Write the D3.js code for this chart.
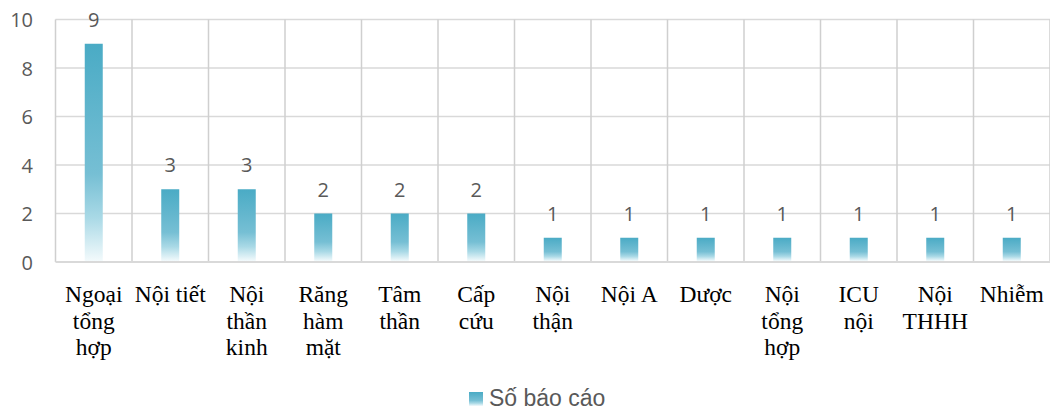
<!DOCTYPE html>
<html><head><meta charset="utf-8">
<script src="https://cdn.jsdelivr.net/npm/d3@7"></script>
<style>body{margin:0;background:#fff}</style>
</head><body>
<svg id="c" width="1050" height="411"></svg>
<script>
const categories = ["Ngoại tổng hợp","Nội tiết","Nội thần kinh","Răng hàm mặt","Tâm thần","Cấp cứu","Nội thận","Nội A","Dược","Nội tổng hợp","ICU nội","Nội THHH","Nhiễm"];
const values = [9,3,3,2,2,2,1,1,1,1,1,1,1];
const yTicks = [0,2,4,6,8,10];
const seriesName = "Số báo cáo";

const svg = d3.select("#c");
const m = {l:55.5, r:1050, t:19.5, b:262};
const x = d3.scaleBand().domain(categories).range([m.l, m.r]).padding(0);
const y = d3.scaleLinear().domain([0,10]).range([m.b, m.t]);

const defs = svg.append("defs");
const g = defs.append("linearGradient").attr("id","grad").attr("x1",0).attr("y1",0).attr("x2",0).attr("y2",1);
[[0,"#4aabc5"],[0.6,"#76bfd4"],[0.8,"#a9d9e6"],[1,"#f3fafc"]].forEach(s=>g.append("stop").attr("offset",s[0]).attr("stop-color",s[1]));

// horizontal gridlines
svg.append("g").selectAll("line").data(yTicks.filter(d=>d>0)).join("line")
  .attr("x1",m.l).attr("x2",m.r).attr("y1",d=>y(d)).attr("y2",d=>y(d))
  .attr("stroke","#d9d9d9").attr("stroke-width",1.5);
// vertical gridlines
const bounds = categories.map(c=>x(c)).concat([m.r]);
svg.append("g").selectAll("line").data(bounds).join("line")
  .attr("x1",d=>d).attr("x2",d=>d).attr("y1",m.t).attr("y2",m.b)
  .attr("stroke","#cfcfcf").attr("stroke-width",1.5);
// bottom axis line
svg.append("line").attr("x1",m.l).attr("x2",m.r).attr("y1",m.b).attr("y2",m.b)
  .attr("stroke","#d9d9d9").attr("stroke-width",2);

// y axis labels
const yAxis = d3.axisLeft(y).tickValues(yTicks).tickSize(0).tickPadding(0);
const ya = svg.append("g").attr("transform",`translate(33,0)`).call(yAxis);
ya.select(".domain").remove();
ya.selectAll("text").attr("font-family","'Open Sans', 'Liberation Sans', sans-serif").attr("font-size",20).attr("fill","#595959").attr("dy","0.35em");

// bars
const bw = 18;
svg.append("g").selectAll("rect").data(values).join("rect")
  .attr("x",(d,i)=>x(categories[i])+x.bandwidth()/2-bw/2)
  .attr("width",bw)
  .attr("y",d=>y(d)).attr("height",d=>m.b-1-y(d))
  .attr("fill","url(#grad)");

// value labels
svg.append("g").selectAll("text").data(values).join("text")
  .attr("x",(d,i)=>x(categories[i])+x.bandwidth()/2)
  .attr("y",d=>y(d)-17)
  .attr("text-anchor","middle")
  .attr("font-family","'Open Sans', 'Liberation Sans', sans-serif").attr("font-size",20).attr("fill","#595959")
  .text(d=>d);

// category labels with wrapping
const maxW = 75;
categories.forEach(c=>{
  const t = svg.append("text").attr("text-anchor","middle")
    .attr("font-family","'Liberation Serif','Times New Roman',serif").attr("font-size",23.5).attr("fill","#000");
  const cx = x(c)+x.bandwidth()/2;
  const words = c.split(" ");
  let lines=[], cur=[];
  const probe = svg.append("text").attr("font-family","'Liberation Serif',serif").attr("font-size",23.5);
  words.forEach(w=>{
    const test = cur.concat([w]).join(" ");
    probe.text(test);
    if (cur.length && probe.node().getComputedTextLength()>maxW){ lines.push(cur.join(" ")); cur=[w]; }
    else cur.push(w);
  });
  lines.push(cur.join(" "));
  probe.remove();
  lines.forEach((l,i)=>t.append("tspan").attr("x",cx).attr("y",302+i*26.5).text(l));
});

// legend
const lg = svg.append("g");
lg.append("rect").attr("x",469).attr("y",392).attr("width",14).attr("height",14).attr("fill","url(#grad)");
lg.append("text").attr("x",489).attr("y",406).attr("font-family","'Liberation Sans',Arial,sans-serif").attr("font-size",23).attr("fill","#595959").text(seriesName);
</script>
</body></html>
